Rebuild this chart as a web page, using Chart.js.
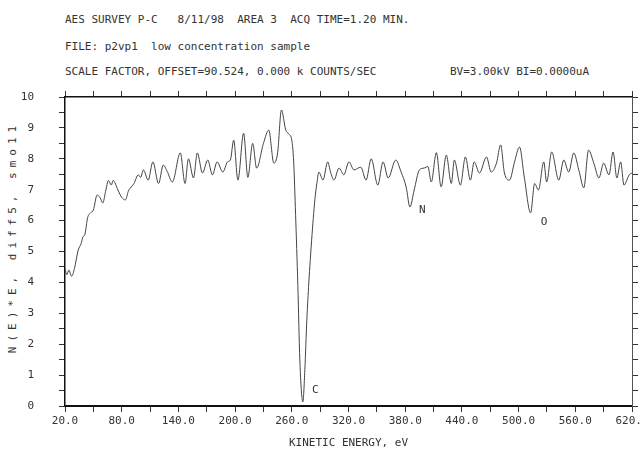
<!DOCTYPE html>
<html>
<head>
<meta charset="utf-8">
<title>AES survey P-C</title>
<script src="https://cdn.jsdelivr.net/npm/chart.js@4.4.1/dist/chart.umd.min.js"></script>
<style>
  body { margin: 0; background: #fff; }
  #wrap { position: relative; width: 642px; height: 450px; }
  #wrap canvas { position: absolute; left: 0; top: 0; }
  .txt { position: absolute; font: 11px "DejaVu Sans Mono", monospace; color: #333; white-space: pre; line-height: 12px; }
  #ylab { left: 13px; top: 237px; transform: translate(-50%, -50%) rotate(-90deg); letter-spacing: 5px; }
</style>
</head>
<body>
<div id="wrap">
  <div class="txt" style="left:65px;top:14px">AES SURVEY P-C   8/11/98  AREA 3  ACQ TIME=1.20 MIN.</div>
  <div class="txt" style="left:65px;top:41px">FILE: p2vp1  low concentration sample</div>
  <div class="txt" style="left:65px;top:66px">SCALE FACTOR, OFFSET=90.524, 0.000 k COUNTS/SEC</div>
  <div class="txt" style="left:450px;top:66px">BV=3.00kV BI=0.0000uA</div>
  <div class="txt" id="ylab">N(E)*E, diff5, smo11</div>
  <canvas id="chart" width="642" height="450"></canvas>
</div>
<script>
// kinetic energy (eV) and the smoothed derivative signal
const energy = [
  20, 22, 24, 27, 30, 34, 37, 39, 41, 44, 47, 50, 54, 57, 60, 63, 66, 69, 71, 76,
  80, 84, 87, 89, 93, 97.5, 100, 103, 108, 113, 119, 124, 128, 133.6, 142, 147, 150.6, 156, 160, 165.5,
  171, 176, 181, 187, 192, 195, 198.5, 203, 209, 213.5, 218.6, 222.8, 230, 235.6, 241, 245, 249, 253.6, 257, 260,
  262, 264, 266.4, 268.5, 270.6, 271.7, 273.8, 275.9, 278, 281, 284.4, 286.5, 288.7, 293, 298, 301, 304.6, 310, 315, 320.5,
  325.8, 333, 338.6, 344, 351, 356.6, 362, 370, 375.7, 381, 385, 389.5, 395, 400, 404, 407.6, 413, 418, 423.5, 428.8,
  432, 438.4, 443.7, 449, 453, 458.6, 466, 471, 476.6, 481, 485, 490.4, 495.7, 501, 506, 512.7, 517, 521, 526.6, 529.7,
  535, 542.5, 547.8, 553, 558.4, 563.7, 569, 574, 579.6, 585, 590, 595.6, 600, 604, 608, 611.5, 617, 620
];
const signal = [
  4.45, 4.25, 4.40, 4.20, 4.45, 5.05, 5.25, 5.47, 5.55, 6.10, 6.25, 6.34, 6.83, 6.75, 6.57, 6.95, 7.30, 7.15, 7.30, 6.99,
  6.75, 6.67, 6.95, 7.05, 7.20, 7.48, 7.40, 7.64, 7.31, 7.90, 7.20, 7.80, 7.60, 7.25, 8.19, 7.20, 8.00, 7.38, 8.19, 7.54,
  7.96, 7.48, 7.90, 7.57, 7.90, 7.96, 8.60, 7.31, 8.83, 7.40, 8.50, 7.70, 8.50, 8.93, 7.86, 8.19, 9.58, 8.93, 8.80, 8.60,
  7.90, 6.20, 3.90, 1.49, 0.32, 0.13, 1.17, 2.78, 3.98, 5.37, 6.67, 7.20, 7.57, 7.31, 7.90, 7.57, 7.31, 7.70, 7.48, 7.90,
  7.64, 7.73, 7.31, 8.00, 7.15, 7.90, 7.38, 7.96, 7.57, 7.09, 6.44, 6.99, 7.64, 7.70, 7.75, 7.25, 8.20, 7.09, 8.12, 7.20,
  7.96, 7.15, 8.06, 7.31, 7.90, 7.54, 8.06, 7.57, 7.86, 8.45, 7.54, 7.31, 7.90, 8.38, 7.41, 6.25, 7.20, 6.99, 7.90, 7.25,
  8.22, 7.31, 7.96, 7.57, 8.19, 7.64, 7.06, 8.28, 7.86, 7.38, 7.86, 7.48, 8.22, 7.38, 7.90, 7.15, 7.48, 7.54
];

// axis ticks: marks every 30 eV / 0.5 units, labels on every other one
const xTicks = [20, 50, 80, 110, 140, 170, 200, 230, 260, 290, 320, 350, 380, 410, 440, 470, 500, 530, 560, 590, 620];
const xLabelAt = [20, 80, 140, 200, 260, 320, 380, 440, 500, 560, 620];
const xLabels = ['20.0', '80.0', '140.0', '200.0', '260.0', '320.0', '380.0', '440.0', '500.0', '560.0', '620.0'];
const yTicks = [0, 0.5, 1, 1.5, 2, 2.5, 3, 3.5, 4, 4.5, 5, 5.5, 6, 6.5, 7, 7.5, 8, 8.5, 9, 9.5, 10];
const yLabelAt = [0, 1, 2, 3, 4, 5, 6, 7, 8, 9, 10];
const yLabels = ['0', '1', '2', '3', '4', '5', '6', '7', '8', '9', '10'];

// element markers printed next to the dips
const peakNames = ['C', 'N', 'O'];
const peakEnergy = [285, 398, 527];
const peakLevel = [0.5, 6.35, 5.95];

const INK = '#333';
const monoFont = { family: '"DejaVu Sans Mono", monospace', size: 11 };

function fixedTicks(values) {
  return (scale) => { scale.ticks = values.map((v) => ({ value: v })); };
}

function labelFrom(at, labels) {
  return (v) => {
    const i = at.indexOf(v);
    return i >= 0 ? labels[i] : '';
  };
}

// pin an axis box to a set size so the plot area lands where the printout has it
function fixedSize(prop, size) {
  return (scale) => {
    scale[prop] = size;
    scale.paddingLeft = 0;
    scale.paddingRight = 0;
    scale.paddingTop = 0;
    scale.paddingBottom = 0;
  };
}

const axisGrid = { display: true, drawOnChartArea: false, drawTicks: true, tickLength: 6, color: INK, lineWidth: 1 };

const peakLabelPlugin = {
  id: 'peakLabels',
  afterDatasetsDraw(chart) {
    const { ctx, scales: { x, y } } = chart;
    ctx.save();
    ctx.font = '11px "DejaVu Sans Mono", monospace';
    ctx.fillStyle = INK;
    ctx.textAlign = 'center';
    ctx.textBaseline = 'middle';
    peakNames.forEach((name, i) => {
      ctx.fillText(name, x.getPixelForValue(peakEnergy[i]), y.getPixelForValue(peakLevel[i]));
    });
    ctx.restore();
  }
};

new Chart(document.getElementById('chart'), {
  type: 'line',
  data: {
    datasets: [{
      data: energy.map((e, i) => ({ x: e, y: signal[i] })),
      borderColor: '#444',
      borderWidth: 1,
      pointRadius: 0,
      cubicInterpolationMode: 'monotone',
      xAxisID: 'x',
      yAxisID: 'y'
    }]
  },
  options: {
    responsive: false,
    animation: false,
    devicePixelRatio: 1,
    layout: { padding: 0 },
    plugins: { legend: { display: false }, tooltip: { enabled: false } },
    scales: {
      x: {
        type: 'linear',
        position: 'bottom',
        min: 20,
        max: 620,
        afterBuildTicks: fixedTicks(xTicks),
        afterFit: fixedSize('height', 44),
        grid: axisGrid,
        border: { display: true, color: '#111', width: 2 },
        ticks: { autoSkip: false, maxRotation: 0, font: monoFont, color: INK, padding: 3, callback: labelFrom(xLabelAt, xLabels) },
        title: { display: true, text: 'KINETIC ENERGY, eV', font: monoFont, color: INK, padding: { top: 0, bottom: 0 } }
      },
      x2: {
        type: 'linear',
        position: 'top',
        min: 20,
        max: 620,
        afterBuildTicks: fixedTicks(xTicks),
        afterFit: fixedSize('height', 97),
        grid: axisGrid,
        border: { display: true, color: '#111', width: 1.5 },
        ticks: { display: false }
      },
      y: {
        type: 'linear',
        position: 'left',
        min: 0,
        max: 10,
        afterBuildTicks: fixedTicks(yTicks),
        afterFit: fixedSize('width', 65),
        grid: axisGrid,
        border: { display: true, color: '#111', width: 1.5 },
        ticks: { autoSkip: false, font: monoFont, color: INK, padding: 25, callback: labelFrom(yLabelAt, yLabels) }
      },
      y2: {
        type: 'linear',
        position: 'right',
        min: 0,
        max: 10,
        afterBuildTicks: fixedTicks(yTicks),
        afterFit: fixedSize('width', 10),
        grid: axisGrid,
        border: { display: true, color: '#555', width: 1, dash: [1, 2] },
        ticks: { display: false }
      }
    }
  },
  plugins: [peakLabelPlugin]
});
</script>
</body>
</html>
